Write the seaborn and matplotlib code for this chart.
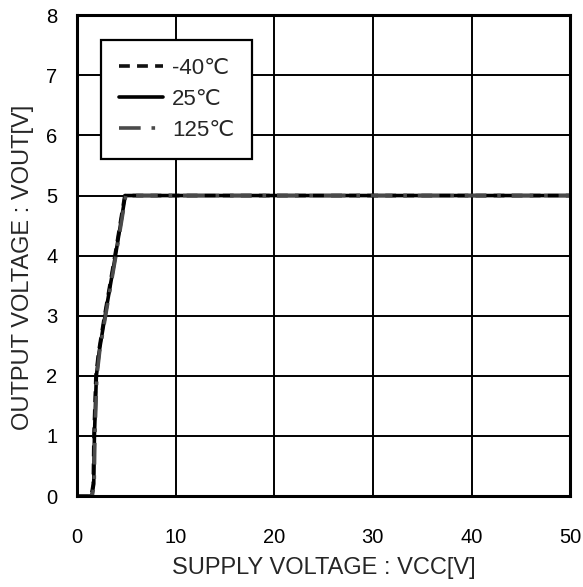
"""Output voltage vs supply voltage at three temperatures."""

import matplotlib

matplotlib.use("Agg")
import matplotlib.pyplot as plt
import pandas as pd
import seaborn as sns


VCC_M40 = [0.0, 1.45, 1.65, 1.72, 1.92, 2.2, 2.8, 3.85, 4.85, 5.05, 50.0]
VOUT_M40 = [0.0, 0.0, 0.2, 1.0, 2.0, 2.4, 3.0, 4.0, 5.0, 5.0, 5.0]
VCC_25 = [0.0, 1.5, 1.7, 1.77, 1.97, 2.25, 2.85, 3.9, 4.9, 5.1, 50.0]
VOUT_25 = [0.0, 0.0, 0.2, 1.0, 2.0, 2.4, 3.0, 4.0, 5.0, 5.0, 5.0]
VCC_125 = [0.0, 1.55, 1.75, 1.82, 2.02, 2.3, 2.9, 3.95, 4.95, 5.15, 50.0]
VOUT_125 = [0.0, 0.0, 0.2, 1.0, 2.0, 2.4, 3.0, 4.0, 5.0, 5.0, 5.0]

SERIES = [
    ("-40\u2103", VCC_M40, VOUT_M40, "#111111", (0, (3, 2))),
    ("25\u2103", VCC_25, VOUT_25, "#000000", "-"),
    ("125\u2103", VCC_125, VOUT_125, "#4a4a4a", (0, (6, 3, 1, 3))),
]

sns.set_style("white")
plt.rcParams["font.family"] = ["Liberation Sans", "DejaVu Sans"]

fig = plt.figure(figsize=(5.83, 5.87), dpi=100)
ax = fig.add_axes([0.132, 0.155, 0.846, 0.819])

for label, vcc, vout, color, ls in SERIES:
    df = pd.DataFrame({"vcc": vcc, "vout": vout})
    sns.lineplot(data=df, x="vcc", y="vout", ax=ax, color=color, linestyle=ls,
                 linewidth=2.6, label=label, sort=False, estimator=None)

ax.set_xlim(0, 50)
ax.set_ylim(0, 8)
ax.set_xticks(range(0, 51, 10))
ax.set_yticks(range(0, 9))
ax.grid(True, color="black", linewidth=1.4)
for spine in ax.spines.values():
    spine.set_color("black")
    spine.set_linewidth(2.2)
ax.tick_params(axis="x", labelsize=14.5, length=0, pad=23, colors="black")
ax.tick_params(axis="y", labelsize=14.5, length=0, pad=14, colors="black")
ax.set_xlabel("SUPPLY VOLTAGE : VCC[V]", fontsize=17, labelpad=7)
ax.set_ylabel("OUTPUT VOLTAGE : VOUT[V]", fontsize=17, labelpad=9)
ax.yaxis.label.set_y(0.476)

leg = ax.legend(loc="upper left", bbox_to_anchor=(0.049, 0.948), borderaxespad=0,
                fontsize=16, frameon=True, fancybox=False, edgecolor="black",
                framealpha=1, handlelength=2.0, borderpad=0.8, labelspacing=0.45,
                handletextpad=0.4)
leg.get_frame().set_linewidth(1.6)

fig.savefig("out.png", dpi=100)
plt.close(fig)
